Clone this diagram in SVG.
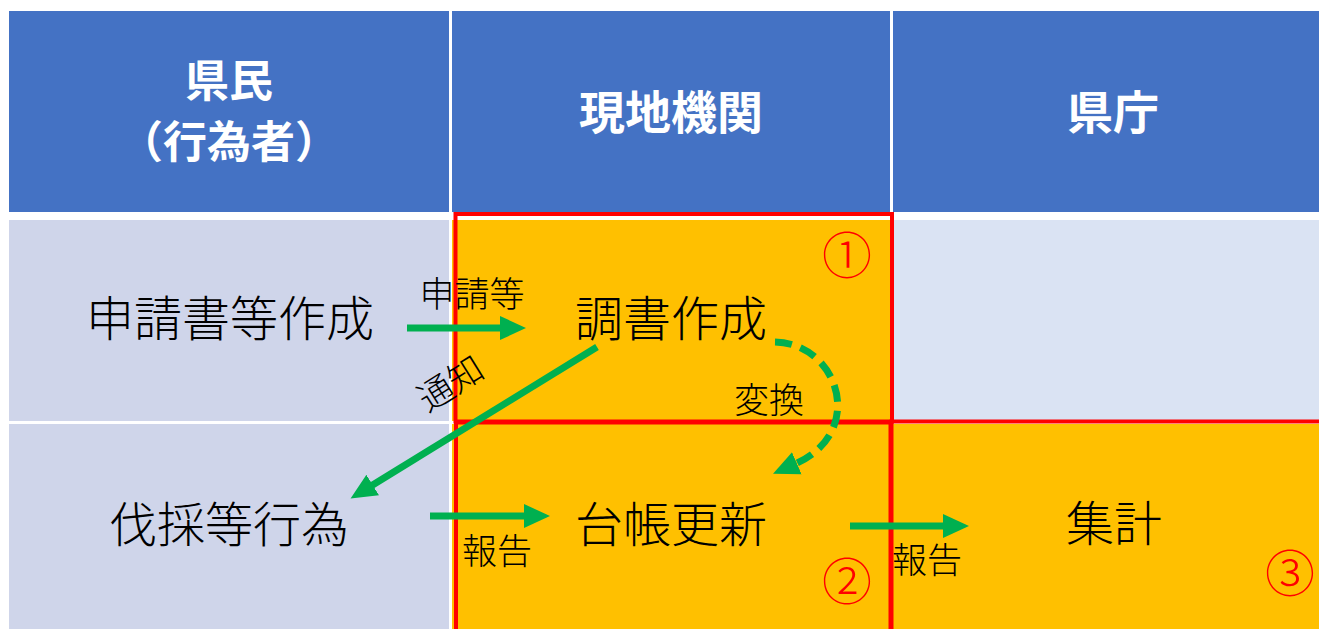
<svg xmlns="http://www.w3.org/2000/svg" width="1319" height="629" viewBox="0 0 1319 629">
<defs>
<style>
.hd{fill:#4472C4}
.b1{fill:#CFD5EA}
.b2{fill:#DAE3F3}
.or{fill:#FFC000}
.ht{font-family:"Noto Sans CJK JP","Noto Sans",sans-serif;font-weight:bold;font-size:46px;fill:#FFFFFF;text-anchor:middle}
.ht2{font-family:"Noto Sans CJK JP","Noto Sans",sans-serif;font-weight:bold;font-size:44px;fill:#FFFFFF;text-anchor:middle}
.mt{font-family:"Noto Sans CJK JP","Noto Sans",sans-serif;font-weight:300;font-size:48px;fill:#000000;text-anchor:middle}
.st{font-family:"Noto Sans CJK JP","Noto Sans",sans-serif;font-weight:300;font-size:35px;fill:#000000;text-anchor:middle}
.num{font-family:"Noto Sans CJK JP","Noto Sans",sans-serif;font-weight:300;font-size:50px;fill:#FF0000;text-anchor:middle}
.rb{fill:none;stroke:#FF0000;stroke-width:4}
.ar{fill:none;stroke:#00B050;stroke-width:7}
.da{fill:none;stroke:#00B050;stroke-width:7;stroke-dasharray:17 9}
</style>
<marker id="ah" markerUnits="userSpaceOnUse" markerWidth="26" markerHeight="26" viewBox="0 0 26 26" refX="2" refY="13" orient="auto">
<path d="M0,1 L26,13 L0,25 Z" fill="#00B050"/>
</marker>
</defs>
<rect width="1319" height="629" fill="#FFFFFF"/>
<g id="table">
<rect class="hd" x="9" y="11" width="440" height="201"/>
<rect class="hd" x="452" y="11" width="438" height="201"/>
<rect class="hd" x="893" y="11" width="426" height="201"/>
<rect class="b1" x="9" y="220" width="440" height="201"/>
<rect class="or" x="452" y="220" width="438" height="201"/>
<rect class="b2" x="893" y="220" width="426" height="201"/>
<rect class="b1" x="9" y="424" width="440" height="205"/>
<rect class="or" x="452" y="424" width="438" height="205"/>
<rect class="or" x="893" y="424" width="426" height="205"/>
</g>
<g id="headers">
<text class="ht2" x="229" y="97">県民</text>
<text class="ht2" x="229" y="158">（行為者）</text>
<text class="ht" x="671" y="129">現地機関</text>
<text class="ht" x="1113" y="129">県庁</text>
</g>
<g id="box1"><rect class="rb" x="455.5" y="214" width="436.5" height="207.5"/></g>
<g id="box2"><rect class="rb" x="456" y="422.5" width="434.5" height="210"/></g>
<g id="box3"><rect class="rb" x="891.5" y="421.5" width="430" height="210"/></g>
<g id="n-shinsei"><text class="mt" x="230" y="336">申請書等作成</text></g>
<g id="n-chousho"><text class="mt" x="671" y="336">調書作成</text></g>
<g id="n-bassai"><text class="mt" x="229" y="542">伐採等行為</text></g>
<g id="n-daicho"><text class="mt" x="671" y="542">台帳更新</text></g>
<g id="n-shukei"><text class="mt" x="1114" y="541">集計</text></g>
<g id="nums">
<text class="num" x="847" y="274">①</text>
<text class="num" x="847" y="600">②</text>
<text class="num" x="1290" y="592">③</text>
</g>
<g id="connectors">
<line class="ar" x1="407" y1="328" x2="502" y2="328" marker-end="url(#ah)"/>
<line class="ar" x1="597" y1="347" x2="371" y2="486" marker-end="url(#ah)"/>
<path class="da" d="M775,342 C838,343 868,432 795,464" marker-end="url(#ah)"/>
<line class="ar" x1="430" y1="516" x2="526" y2="516" marker-end="url(#ah)"/>
<line class="ar" x1="850" y1="526" x2="945" y2="526" marker-end="url(#ah)"/>
</g>
<g id="labels">
<text class="st" x="451" y="396" transform="rotate(-32 451 384)">通知</text>
<text class="st" x="472" y="307">申請等</text>
<text class="st" x="769" y="413">変換</text>
<text class="st" x="497" y="564">報告</text>
<text class="st" x="927" y="573">報告</text>
</g>
</svg>
